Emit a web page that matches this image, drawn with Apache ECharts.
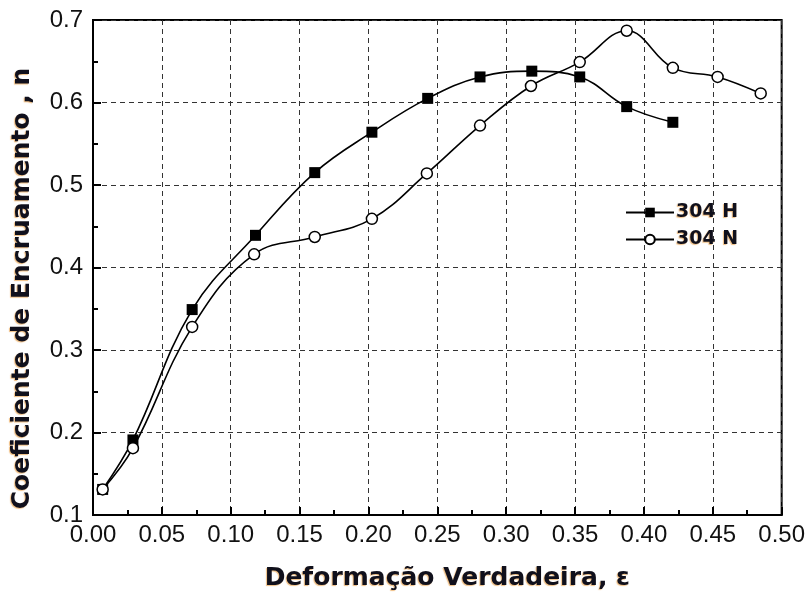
<!DOCTYPE html>
<html>
<head>
<meta charset="utf-8">
<script src="https://cdn.jsdelivr.net/npm/echarts@6/dist/echarts.min.js"></script>
<style>
  html, body { margin: 0; padding: 0; background: #fff; }
  #chart { width: 808px; height: 596px; }
</style>
</head>
<body>
<div id="chart"></div>
<script>
// True strain (ε) and strain-hardening exponent (n) for the two 304 steels
const strain304H = [0.007, 0.029, 0.072, 0.118, 0.161, 0.2025, 0.243, 0.281, 0.3186, 0.3534, 0.3875, 0.421];
const n304H      = [0.131, 0.191, 0.349, 0.439, 0.515, 0.564, 0.605, 0.631, 0.638, 0.631, 0.595, 0.576];

const strain304N = [0.007, 0.029, 0.072, 0.117, 0.161, 0.2025, 0.2424, 0.281, 0.318, 0.3534, 0.3875, 0.421, 0.4535, 0.4848];
const n304N      = [0.131, 0.181, 0.328, 0.416, 0.437, 0.459, 0.514, 0.572, 0.620, 0.649, 0.687, 0.642, 0.631, 0.611];

const seriesNames = ['304 H', '304 N'];
const xTitle = 'Deformação Verdadeira, ε';
const yTitle = 'Coeficiente de Encruamento , n';

const pair = (xs, ys) => xs.map((x, i) => [x, ys[i]]);

// bold captions: near-black ink with a faint warm fringe
const titleFont = {
  fontFamily: 'DejaVu Sans',
  fontWeight: 'bold',
  color: '#10101c',
  textShadowColor: 'rgba(225,135,25,0.55)',
  textShadowBlur: 1,
  textShadowOffsetX: -1,
  textShadowOffsetY: 1
};

const chart = echarts.init(document.getElementById('chart'), null, { renderer: 'canvas' });

chart.setOption({
  animation: false,
  backgroundColor: '#ffffff',
  grid: {
    left: 93, right: 26, top: 20, bottom: 79,
    show: true,
    borderColor: '#000',
    borderWidth: 2,
    backgroundColor: 'transparent'
  },
  legend: {
    orient: 'vertical',
    left: 620,
    top: 198,
    itemWidth: 48,
    itemHeight: 12,
    itemGap: 8,
    data: seriesNames,
    textStyle: Object.assign({ fontSize: 19, padding: [0, 0, 0, -3] }, titleFont)
  },
  xAxis: {
    type: 'value',
    min: 0,
    max: 0.5,
    interval: 0.05,
    name: xTitle,
    nameLocation: 'middle',
    nameGap: 51,
    nameTextStyle: Object.assign({ fontSize: 25, padding: [0, 0, 0, 20] }, titleFont),
    axisLine: { show: true, onZero: false, lineStyle: { color: '#000', width: 2 } },
    axisTick: { show: true, inside: true, length: 8, lineStyle: { color: '#000', width: 2 } },
    minorTick: { show: true, splitNumber: 2, length: 5, lineStyle: { color: '#000', width: 2 } },
    axisLabel: {
      margin: 8,
      fontFamily: 'Liberation Sans',
      fontSize: 24,
      color: '#111',
      formatter: v => v.toFixed(2)
    },
    splitLine: { show: true, lineStyle: { color: '#333', width: 1, type: [5, 4] } }
  },
  yAxis: {
    type: 'value',
    min: 0.1,
    max: 0.7,
    interval: 0.1,
    name: yTitle,
    nameLocation: 'middle',
    nameGap: 58,
    nameTextStyle: Object.assign({ fontSize: 25, padding: [0, 42, 0, 0] }, titleFont),
    axisLine: { show: true, onZero: false, lineStyle: { color: '#000', width: 2 } },
    axisTick: { show: true, inside: true, length: 8, lineStyle: { color: '#000', width: 2 } },
    minorTick: { show: true, splitNumber: 2, length: 5, lineStyle: { color: '#000', width: 2 } },
    axisLabel: {
      margin: 10,
      fontFamily: 'Liberation Sans',
      fontSize: 24,
      color: '#111',
      formatter: v => v.toFixed(1)
    },
    splitLine: { show: true, lineStyle: { color: '#333', width: 1, type: [5, 4] } }
  },
  series: [
    {
      name: seriesNames[0],
      type: 'line',
      smooth: 0.4,
      data: pair(strain304H, n304H),
      symbol: 'rect',
      symbolSize: 11,
      lineStyle: { color: '#000', width: 1.6 },
      itemStyle: { color: '#000', borderColor: '#000', borderWidth: 0 },
      z: 3
    },
    {
      name: seriesNames[1],
      type: 'line',
      smooth: 0.4,
      data: pair(strain304N, n304N),
      symbol: 'circle',
      symbolSize: 11,
      lineStyle: { color: '#000', width: 1.6 },
      itemStyle: { color: '#fff', borderColor: '#000', borderWidth: 1.5 },
      z: 4
    }
  ]
});
</script>
</body>
</html>
